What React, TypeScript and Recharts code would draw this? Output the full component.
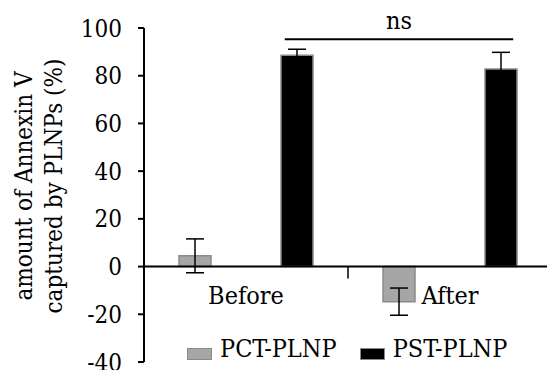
import { BarChart, Bar, XAxis, YAxis, ErrorBar, ReferenceLine, Legend } from "recharts";

const categories = ["Before", "After"];
const categoryPos = [0.5, 1.5];
const pctValues = [4.5, -14.7];
const pctErrors = [7.1, 5.7];
const pstValues = [88.6, 82.8];
const pstErrors = [2.5, 7.0];
const yTicks = [-40, -20, 0, 20, 40, 60, 80, 100];
const seriesNames = ["PCT-PLNP", "PST-PLNP"];
const seriesFills = ["#a6a6a6", "#000000"];

const data = categories.map((name, i) => ({
  name,
  pos: categoryPos[i],
  pct: pctValues[i],
  pctErr: pctErrors[i],
  pst: pstValues[i],
  pstErr: pstErrors[i],
}));

// Liberation Serif isn't available here, the condensed DejaVu serif is the nearest in width
const FONT = "'DejaVu Serif Condensed', 'DejaVu Serif', serif";
const W = 552;
const H = 370;
const M = { top: 28, right: 0, left: 0, bottom: 7 };
const Y_MIN = -40;
const Y_MAX = 100;
const ZERO_Y = M.top + ((H - M.top - M.bottom - 1) * Y_MAX) / (Y_MAX - Y_MIN);

const CategoryTick = (props: any) => {
  const { x, payload } = props;
  return (
    <text x={x} y={ZERO_Y + 37} textAnchor="middle" style={{ fontFamily: FONT }} fontSize={25} fill="#000">
      {payload.value}
    </text>
  );
};

const YLabel = () => (
  <g style={{ fontFamily: FONT }} fontSize={24} fill="#000">
    <text x={32} y={186} textAnchor="middle" transform="rotate(-90, 32, 186)">
      amount of Annexin V
    </text>
    <text x={62} y={186} textAnchor="middle" transform="rotate(-90, 62, 186)">
      captured by PLNPs (%)
    </text>
  </g>
);

const LegendContent = () => (
  <div style={{ display: "flex", alignItems: "center", fontFamily: FONT, fontSize: 25, lineHeight: "25px", color: "#000" }}>
    {seriesNames.map((n, i) => (
      <div key={n} style={{ display: "flex", alignItems: "center", marginRight: i === 0 ? 23 : 0 }}>
        <span
          style={{
            display: "inline-block",
            width: 23,
            height: 10,
            background: seriesFills[i],
            border: "1px solid #8a8a8a",
            transform: "translateY(5px)",
            marginRight: 8,
          }}
        />
        <span>{n}</span>
      </div>
    ))}
  </div>
);

export default function App() {
  return (
    <div style={{ position: "absolute", left: 0, top: 0, width: 547, height: 370, overflow: "hidden", background: "#fff" }}>
      <BarChart width={W} height={H} data={data} margin={M} barSize={32} barGap={70}>
        <XAxis
          xAxisId="cat"
          dataKey="name"
          height={1}
          axisLine={false}
          tickLine={false}
          tick={<CategoryTick />}
          interval={0}
        />
        <XAxis xAxisId="num" dataKey="pos" type="number" domain={[0, 2]} allowDataOverflow hide />
        <YAxis
          width={144}
          domain={[Y_MIN, Y_MAX]}
          ticks={yTicks}
          interval={0}
          axisLine={{ stroke: "#000", strokeWidth: 2 }}
          tickLine={{ stroke: "#000", strokeWidth: 2 }}
          tickSize={6}
          tickMargin={16}
          tick={{ fontFamily: FONT, fontSize: 24, fill: "#000" }}
          label={<YLabel />}
        />
        <Bar xAxisId="cat" dataKey="pct" name={seriesNames[0]} fill={seriesFills[0]} stroke="#8a8a8a" strokeWidth={1.5} isAnimationActive={false}>
          <ErrorBar dataKey="pctErr" direction="y" width={9} stroke="#000" strokeWidth={1.5} />
        </Bar>
        <Bar xAxisId="cat" dataKey="pst" name={seriesNames[1]} fill={seriesFills[1]} stroke="#8a8a8a" strokeWidth={1.5} isAnimationActive={false}>
          <ErrorBar dataKey="pstErr" direction="y" width={9} stroke="#000" strokeWidth={1.5} />
        </Bar>
        <ReferenceLine xAxisId="cat" y={0} stroke="#000" strokeWidth={2} />
        <ReferenceLine
          xAxisId="num"
          segment={[{ x: 1, y: 0 }, { x: 1, y: -5 }]}
          stroke="#000"
          strokeWidth={1.5}
        />
        <ReferenceLine
          xAxisId="num"
          segment={[{ x: 0.69, y: 95.3 }, { x: 1.81, y: 95.3 }]}
          stroke="#000"
          strokeWidth={2}
          label={{ value: "ns", position: "top", offset: 10, fontFamily: FONT, fontSize: 25, fill: "#000" }}
        />
        <Legend
          layout="horizontal"
          verticalAlign="middle"
          align="center"
          content={<LegendContent />}
          wrapperStyle={{ top: 336, left: 187, width: "auto", height: 25 }}
        />
      </BarChart>
    </div>
  );
}
